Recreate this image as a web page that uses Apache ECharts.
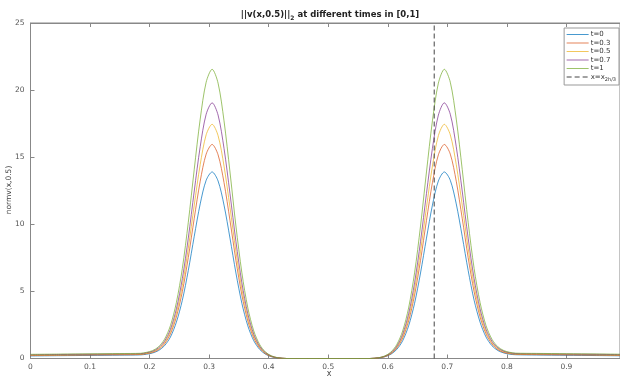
<!DOCTYPE html>
<html><head><meta charset="utf-8">
<script src="https://cdn.jsdelivr.net/npm/echarts@6/dist/echarts.min.js"></script>
<style>html,body{margin:0;padding:0;background:#fff}#c{width:620px;height:376px}</style>
</head><body><div id="c"></div>
<script>
const xs = [0,0.05,0.1,0.15,0.185,
 0.195,0.205,0.215,0.225,0.235,0.245,0.255,0.265,0.275,0.285,0.295,
 0.305,
 0.315,0.325,0.335,0.345,0.355,0.365,0.375,0.385,0.395,0.405,0.415,
 0.43,0.5,0.57,
 0.585,0.595,0.605,0.615,0.625,0.635,0.645,0.655,0.665,0.675,0.685,
 0.695,
 0.705,0.715,0.725,0.735,0.745,0.755,0.765,0.775,0.785,0.795,0.805,
 0.815,0.85,0.9,0.95,0.99];

const v_t0 = [0.19,0.21,0.23,0.25,0.27,
 0.32,0.41,0.59,0.95,1.60,2.71,4.34,6.56,9.11,11.52,13.28,
 13.90,
 13.23,11.43,8.97,6.37,4.11,2.43,1.32,0.67,0.31,0.13,0.04,
 0,0,0,
 0.04,0.13,0.31,0.67,1.32,2.43,4.11,6.37,8.97,11.43,13.23,
 13.90,
 13.28,11.52,9.11,6.56,4.34,2.71,1.60,0.95,0.59,0.41,0.32,
 0.28,0.26,0.24,0.22,0.20];
const v_t03 = [0.22,0.24,0.26,0.28,0.30,
 0.36,0.45,0.66,1.08,1.83,3.10,4.98,7.52,10.45,13.21,15.23,
 15.95,
 15.18,13.11,10.29,7.31,4.72,2.79,1.52,0.77,0.35,0.14,0.05,
 0,0,0,
 0.05,0.14,0.35,0.77,1.52,2.79,4.72,7.31,10.29,13.11,15.18,
 15.95,
 15.23,13.21,10.45,7.52,4.98,3.10,1.83,1.08,0.66,0.45,0.36,
 0.31,0.29,0.27,0.25,0.23];
const v_t05 = [0.25,0.27,0.29,0.31,0.33,
 0.39,0.50,0.72,1.18,2.00,3.39,5.45,8.22,11.43,14.45,16.67,
 17.45,
 16.61,14.34,11.26,7.99,5.17,3.05,1.66,0.84,0.38,0.16,0.05,
 0,0,0,
 0.05,0.16,0.38,0.84,1.66,3.05,5.17,7.99,11.26,14.34,16.61,
 17.45,
 16.67,14.45,11.43,8.22,5.45,3.39,2.00,1.18,0.72,0.50,0.39,
 0.34,0.32,0.30,0.28,0.26];
const v_t07 = [0.28,0.30,0.32,0.34,0.36,
 0.43,0.54,0.79,1.28,2.18,3.70,5.95,8.97,12.48,15.78,18.20,
 19.05,
 18.14,15.66,12.29,8.72,5.64,3.33,1.81,0.91,0.42,0.17,0.06,
 0,0,0,
 0.06,0.17,0.42,0.91,1.81,3.33,5.64,8.72,12.29,15.66,18.14,
 19.05,
 18.20,15.78,12.48,8.97,5.95,3.70,2.18,1.28,0.79,0.54,0.43,
 0.37,0.35,0.33,0.31,0.29];
const v_t1 = [0.31,0.33,0.35,0.37,0.39,
 0.46,0.59,0.87,1.43,2.45,4.17,6.71,10.14,14.10,17.84,20.59,
 21.55,
 20.52,17.71,13.90,9.87,6.38,3.77,2.05,1.03,0.47,0.19,0.06,
 0,0,0,
 0.06,0.19,0.47,1.03,2.05,3.77,6.38,9.87,13.90,17.71,20.52,
 21.55,
 20.59,17.84,14.10,10.14,6.71,4.17,2.45,1.43,0.87,0.59,0.46,
 0.40,0.38,0.36,0.34,0.32];

const seriesNames = ['t=0','t=0.3','t=0.5','t=0.7','t=1'];
const seriesValues = [v_t0, v_t03, v_t05, v_t07, v_t1];
const colors = ['#0072BD','#D95319','#EDB120','#7E2F8E','#77AC30'];
const xLineName = 'x=x_{2h/3}';
const xLineValue = 0.678;
const yRange = [0, 25];
const xAxisName = 'x';
const yAxisName = 'normv(x,0.5)';

const font = 'DejaVu Sans';
const series = seriesNames.map((n, i) => ({
  name: n, type: 'line', symbol: 'none', smooth: 0.3,
  data: xs.map((x, j) => [x, seriesValues[i][j]]),
  lineStyle: { width: 1, color: colors[i], opacity: 0.72 },
  itemStyle: { color: colors[i] },
  z: 2 + i, animation: false
}));
series.push({
  name: xLineName, type: 'line', symbol: 'none',
  data: [[xLineValue, yRange[0]], [xLineValue, yRange[1]]],
  lineStyle: { width: 1, type: [5, 3], color: '#444' },
  itemStyle: { color: '#444' }, animation: false, z: 10
});

const chart = echarts.init(document.getElementById('c'), null, { renderer: 'canvas' });
chart.setOption({
  animation: false,
  color: colors.concat(['#444']),
  title: {
    text: '{a|||v(x,0.5)||}{s|2}{a| at different times in [0,1]}',
    left: 325, top: 4, textAlign: 'center',
    textStyle: {
      rich: {
        a: { fontFamily: font, fontSize: 8.5, fontWeight: 'bold', color: '#222' },
        s: { fontFamily: font, fontSize: 6, fontWeight: 'bold', color: '#222', padding: [6, 0, 0, 0] }
      }
    }
  },
  graphic: [
    { type: 'text', x: 9, y: 190, rotation: Math.PI / 2, z: 20,
      style: { text: yAxisName, font: '7.5px "DejaVu Sans"', fill: '#444', align: 'center', verticalAlign: 'middle' } },
    { type: 'text', x: 329, y: 370, z: 20,
      style: { text: xAxisName, font: '8px "DejaVu Sans"', fill: '#444', align: 'center', verticalAlign: 'top' } }
  ],
  grid: { left: 30.5, right: 0, top: 23, bottom: 17.5, outerBoundsMode: 'none', containLabel: false,
    show: true, borderColor: '#888', borderWidth: 1, backgroundColor: '#fff' },
  legend: {
    orient: 'vertical', right: 1, top: 28,
    itemWidth: 22, itemHeight: 6, itemGap: 1.5,
    padding: [3, 3, 3, 2],
    borderColor: '#999', borderWidth: 1, backgroundColor: '#fff',
    data: seriesNames.concat([xLineName]),
    itemStyle: { opacity: 0, borderWidth: 0 },
    lineStyle: { width: 1 },
    formatter: n => n === xLineName ? '{a|x=x}{s|2h/3}' : n,
    textStyle: {
      fontFamily: font, fontSize: 7, color: '#333', padding: [0, 0, 0, -3],
      rich: {
        a: { fontFamily: font, fontSize: 7, color: '#333' },
        s: { fontFamily: font, fontSize: 5, color: '#333', padding: [5, 0, 0, 0] }
      }
    }
  },
  xAxis: [{
    type: 'value', min: 0, max: 0.99, interval: 0.1,
    axisLine: { show: true, lineStyle: { color: '#888' } },
    axisTick: { show: true, inside: true, length: 4, lineStyle: { color: '#888' } },
    axisLabel: { fontFamily: font, fontSize: 7.5, color: '#555', margin: 5, showMaxLabel: false,
      formatter: v => String(+v.toFixed(2)) },
    splitLine: { show: false }
  }, {
    type: 'value', position: 'top', min: 0, max: 0.99, interval: 0.1,
    axisLine: { show: true, lineStyle: { color: '#888' } },
    axisTick: { show: true, inside: true, length: 4, lineStyle: { color: '#888' } },
    axisLabel: { show: false }, splitLine: { show: false }
  }],
  yAxis: {
    type: 'value', min: yRange[0], max: yRange[1], interval: 5,
    axisLine: { show: true, lineStyle: { color: '#888' } },
    axisTick: { show: true, inside: true, length: 4, lineStyle: { color: '#888' } },
    axisLabel: { fontFamily: font, fontSize: 7.5, color: '#555', margin: 6 },
    splitLine: { show: false }
  },
  series: series
});
</script></body></html>
